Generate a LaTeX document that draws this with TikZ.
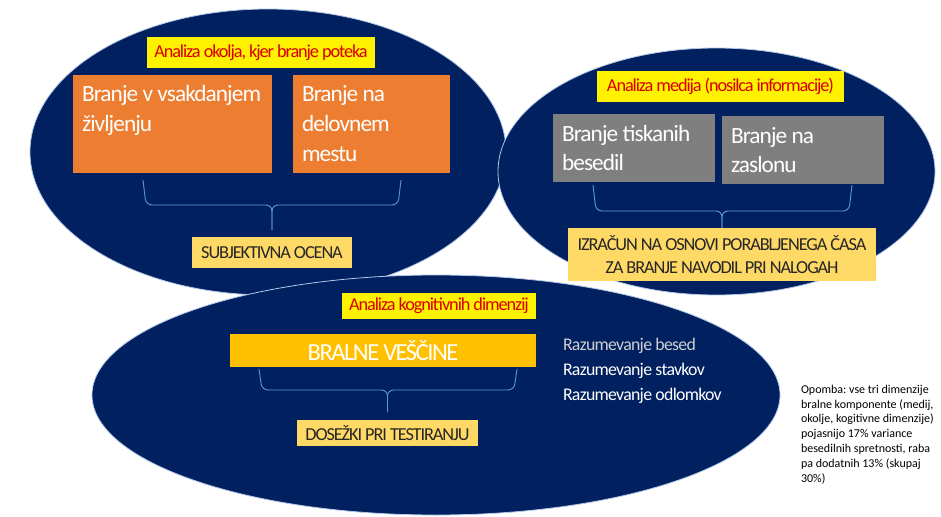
\documentclass[tikz,border=0pt]{standalone}
\usepackage{fontspec}
\setmainfont{Carlito}
\newfontfamily\tightfont[LetterSpace=-6]{Carlito}
\newfontfamily\narrowfont[LetterSpace=-4]{Carlito}
\usetikzlibrary{shapes.geometric}
\frenchspacing
\definecolor{navy}{HTML}{002060}
\definecolor{edgeblue}{HTML}{B4C7E7}
\definecolor{orangebox}{HTML}{ED7D31}
\definecolor{graybox}{HTML}{7F7F7F}
\definecolor{goldbox}{HTML}{FFC000}
\definecolor{sandbox}{HTML}{FFD966}
\definecolor{bracecol}{HTML}{5B9BD5}
\definecolor{titlered}{HTML}{D80000}
\definecolor{darktext}{HTML}{262626}
\definecolor{palegray}{HTML}{D0D0D0}

\begin{document}
\begin{tikzpicture}
        [x=1pt,y=-1pt,every node/.style={inner sep=0,outer sep=0}]
        \useasboundingbox (0,0) rectangle (941,516);
        \tikzset{Oval/.style       = {ellipse, fill=navy, draw=edgeblue, line width=.8pt},
                 TitleStyle/.style = {fill=yellow, text=titlered,
                                      font=\tightfont\fontsize{18.3}{20}\selectfont},
                 BigBox/.style     = {anchor=north west, text=white, align=flush left,
                                      inner xsep=9, font=\narrowfont\fontsize{23.3}{29.5}\selectfont},
                 OrangeBox/.style  = {BigBox, fill=orangebox, text height=27, text depth=71},
                 GrayBox/.style    = {BigBox, fill=graybox, text height=27, text depth=41},
                 ResultStyle/.style= {fill=sandbox, text=darktext, align=center,
                                      font=\tightfont\fontsize{18.3}{23}\selectfont},
                 Bracket/.style    = {draw=bracecol, line width=.9pt, rounded corners=6}}
        \node[Oval, minimum width=476, minimum height=286] (Okolje) at (268,152) {};
        \node[Oval, minimum width=437, minimum height=247] (Medij) at (716.5,171.5) {};
        \node[Oval, minimum width=688, minimum height=240] (Kognicija) at (436,395) {};

        \node[TitleStyle, minimum width=228, minimum height=31] (OkoljeNaslov) at (261,52.5) {Analiza okolja, kjer branje poteka};
        \node[OrangeBox, text width=181] (Vsakdan) at (73,75) {Branje v vsakdanjem\\življenju};
        \node[OrangeBox, text width=139] (Delovno) at (293,75) {Branje na\\delovnem\\mestu};
        \node[ResultStyle, minimum width=160, minimum height=31] (Subjektivna) at (272,252.5) {SUBJEKTIVNA OCENA};

        \node[TitleStyle, minimum width=247, minimum height=31] (MedijNaslov) at (720.5,86.5) {Analiza medija (nosilca informacije)};
        \node[GrayBox, text width=144] (Tiskana) at (553,114) {Branje tiskanih\\besedil};
        \node[GrayBox, text width=144] (Zaslon) at (722,116) {Branje na\\zaslonu};
        \node[ResultStyle, minimum width=308, minimum height=53] (Izracun) at (722,254.5) {IZRAČUN NA OSNOVI PORABLJENEGA ČASA\\ZA BRANJE NAVODIL PRI NALOGAH};

        \node[TitleStyle, minimum width=194, minimum height=26] (KognicijaNaslov) at (439,306) {Analiza kognitivnih dimenzij};
        \node[fill=goldbox, text=white, minimum width=306, minimum height=33,
              font=\tightfont\fontsize{24.5}{26}\selectfont] (Vescine) at (383,350.5) {BRALNE VEŠČINE};
        \node[ResultStyle, minimum width=181, minimum height=26] (Dosezki) at (387.5,433) {DOSEŽKI PRI TESTIRANJU};

        \foreach \name/\y/\col in {besed/350/palegray, stavkov/375/white, odlomkov/400/white}
            \node[anchor=base west, text=\col, font=\narrowfont\fontsize{17.8}{20}\selectfont] (\name) at (563,\y) {Razumevanje \name};

        \node[anchor=north west, align=left, font=\fontsize{12}{14.8}\selectfont] (Opomba) at (801,385)
            {Opomba: vse tri dimenzije\\bralne komponente (medij,\\okolje, kogitivne dimenzije)\\pojasnijo 17\% variance\\besedilnih spretnosti, raba\\pa dodatnih 13\% (skupaj\\30\%)};

        \draw[Bracket] ([shift={(70,7)}]Vsakdan.south west) -- ++(3,25) -| ([shift={(0,-7)}]Subjektivna.north);
        \draw[Bracket] ([shift={(-49,7)}]Delovno.south east) -- ++(-3,25) -| ([shift={(0,-7)}]Subjektivna.north);
        \draw[Bracket] ([shift={(40,3)}]Tiskana.south west) -- ++(3,26) -| (Izracun.north);
        \draw[Bracket] ([shift={(-32,1)}]Zaslon.south east) -- ++(-3,26) -| (Izracun.north);
        \draw[Bracket] ([shift={(29,2)}]Vescine.south west) -- ++(3,21) -| ([shift={(0,-8)}]Dosezki.north);
        \draw[Bracket] ([shift={(-19,2)}]Vescine.south east) -- ++(-3,21) -| ([shift={(0,-8)}]Dosezki.north);
    \end{tikzpicture}
\end{document}
